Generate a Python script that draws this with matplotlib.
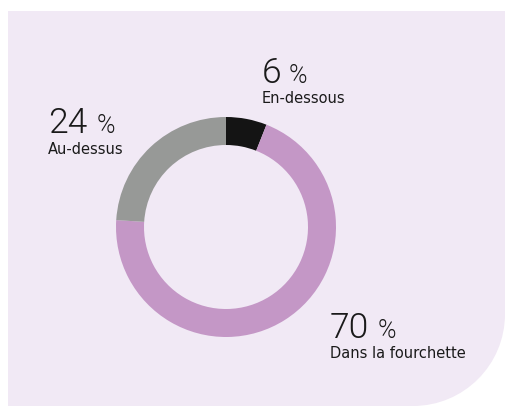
import matplotlib
matplotlib.use("Agg")
import matplotlib.pyplot as plt
from matplotlib.path import Path
from matplotlib.patches import PathPatch

plt.rcParams['font.family'] = ['DejaVu Sans Condensed', 'DejaVu Sans']

# data
labels = ["En-dessous", "Dans la fourchette", "Au-dessus"]
values = [6, 70, 24]
colors = ["#141414", "#c497c6", "#979997"]

W, H = 506, 407
fig = plt.figure(figsize=[W / 100, H / 100], dpi=100)
fig.patch.set_facecolor("white")
ax = fig.add_axes([0, 0, 1, 1])

# background panel with a rounded bottom right corner (pixel coords, y up)
left, top, right, bottom = 8, H - 11, 505, H - 406
r = 92
k = 0.5523 * r
verts = [(left, top), (right, top), (right, bottom + r),
         (right, bottom + r - k), (right - r + k, bottom), (right - r, bottom),
         (left, bottom), (left, top)]
codes = [Path.MOVETO, Path.LINETO, Path.LINETO,
         Path.CURVE4, Path.CURVE4, Path.CURVE4,
         Path.LINETO, Path.CLOSEPOLY]
ax.add_patch(PathPatch(Path(verts, codes), facecolor="#f1e9f5", edgecolor="none"))

# donut
cx, cy, R = 226, H - 227, 110
ax.pie(values, colors=colors, startangle=90, counterclock=False,
       center=(cx, cy), radius=R,
       wedgeprops=dict(width=28, linewidth=0))

ax.set_xlim(0, W)
ax.set_ylim(0, H)
ax.set_aspect("auto")
ax.axis("off")

num_font = ["Roboto", "DejaVu Sans Condensed"]

# labels: number, percent sign, name
pos = {
    "En-dessous": (262, 83, 289, 103),
    "Au-dessus": (48, 133, 97, 154),
    "Dans la fourchette": (330, 338, 378, 358),
}
for lab, val in zip(labels, values):
    x, yb, xp, yl = pos[lab]
    ax.text(x, H - yb, str(val), fontsize=25.5, color="#1a1a1a", va="baseline", ha="left",
            family=num_font, fontweight=300)
    ax.text(xp, H - yb, "%", fontsize=18, color="#1a1a1a", va="baseline", ha="left",
            family=num_font, fontweight=300)
    ax.text(x, H - yl, lab, fontsize=10.5, color="#1a1a1a", va="baseline", ha="left")

fig.savefig("out.png", dpi=100, facecolor=fig.get_facecolor())
